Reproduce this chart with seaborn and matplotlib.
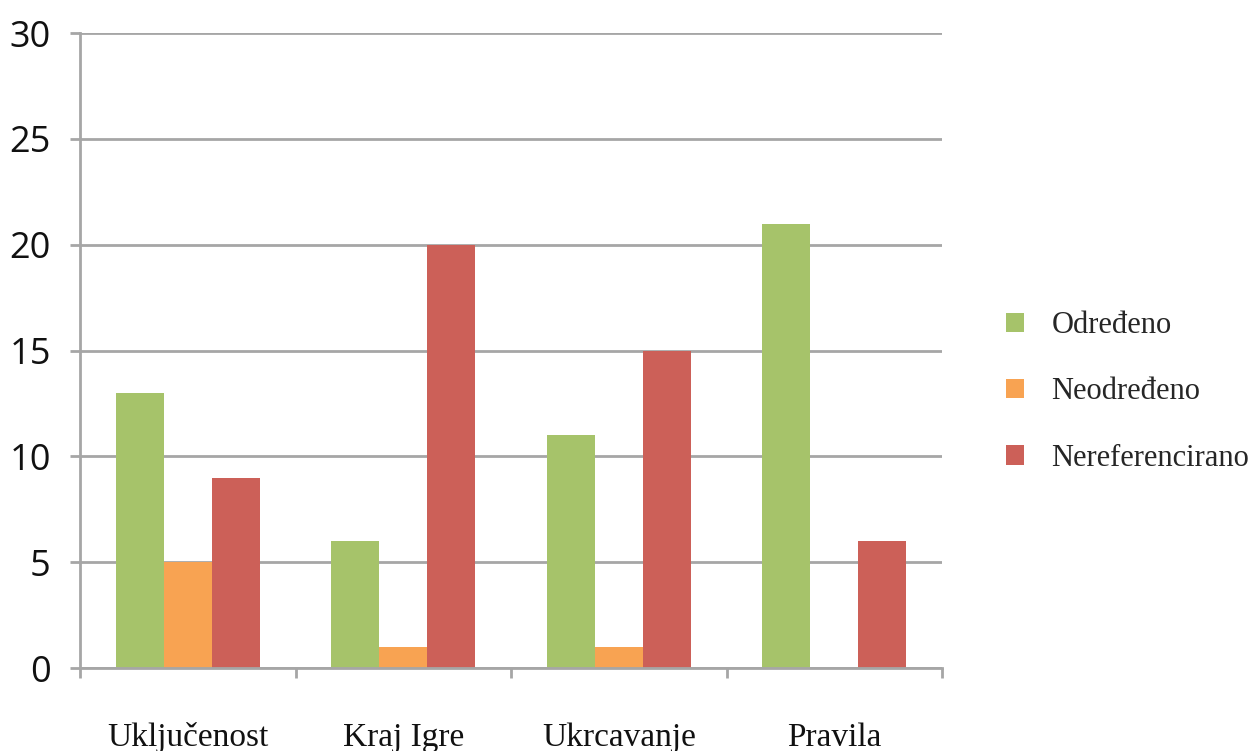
import matplotlib
matplotlib.use("Agg")
import matplotlib.pyplot as plt
import seaborn as sns
import pandas as pd
from matplotlib.ticker import FixedLocator

categories = ["Uključenost", "Kraj Igre", "Ukrcavanje", "Pravila"]
series = ["Određeno", "Neodređeno", "Nereferencirano"]
odredjeno = [13, 6, 11, 21]
neodredjeno = [5, 1, 1, 0]
nereferencirano = [9, 20, 15, 6]
y_ticks = [0, 5, 10, 15, 20, 25, 30]

colors = ["#A6C36A", "#F8A352", "#CC6058"]

rows = []
for name, vals in zip(series, [odredjeno, neodredjeno, nereferencirano]):
    for cat, v in zip(categories, vals):
        rows.append({"Kategorija": cat, "Serija": name, "Vrijednost": v})
df = pd.DataFrame(rows)

sns.set_theme(style="white")
fig = plt.figure(figsize=(12.56, 7.51), dpi=100)
ax = fig.add_axes([0.0637, 0.1105, 0.6863, 0.8455])

sns.barplot(data=df, x="Kategorija", y="Vrijednost", hue="Serija",
            order=categories, hue_order=series, palette=colors,
            width=0.67, saturation=1, ax=ax, linewidth=0, legend=True)

grid_col = "#A6A6A6"
ax.set_ylim(0, 30)
ax.set_xlim(-0.5, len(categories) - 0.5)
ax.set_yticks(y_ticks)
ax.yaxis.grid(True, color=grid_col, linewidth=2)
ax.set_axisbelow(True)
ax.set_xlabel("")
ax.set_ylabel("")

for s in ["top", "right"]:
    ax.spines[s].set_visible(False)
for s in ["left", "bottom"]:
    ax.spines[s].set_color(grid_col)
    ax.spines[s].set_linewidth(2)

ax.tick_params(axis="y", which="major", length=7, width=2, color=grid_col,
               direction="out", pad=14, labelsize=26, left=True)
for lab in ax.get_yticklabels():
    lab.set_fontfamily("Open Sans")
    lab.set_color("#111111")

# category separators on the x axis
ax.xaxis.set_minor_locator(FixedLocator([i - 0.5 for i in range(len(categories) + 1)]))
ax.tick_params(axis="x", which="minor", length=7, width=2, color=grid_col,
               direction="out", bottom=True)
ax.tick_params(axis="x", which="major", length=0, pad=39, labelsize=24)
for lab in ax.get_xticklabels():
    lab.set_fontfamily("Liberation Serif")
    lab.set_color("#111111")

handles, labels = ax.get_legend_handles_labels()
ax.legend(handles, labels, loc="center left", bbox_to_anchor=(1.042, 0.435),
          frameon=False, prop={"family": "Liberation Serif", "size": 22},
          handlelength=0.6, handleheight=0.6, handletextpad=0.9,
          labelspacing=1.22)

fig.savefig("out.png", dpi=100)
